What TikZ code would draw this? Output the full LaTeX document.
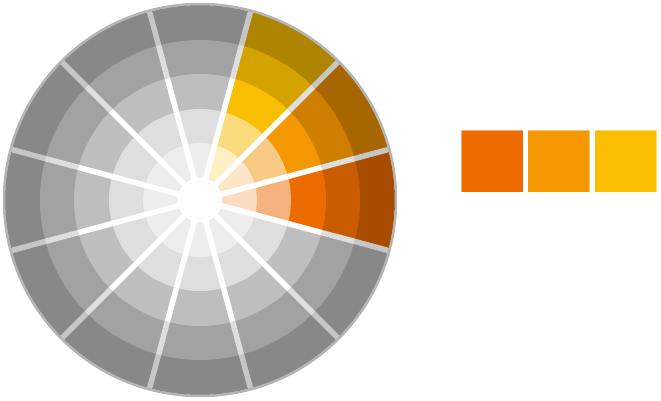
\documentclass[tikz,border=0pt]{standalone}
\definecolor{g1}{HTML}{888888}
\definecolor{g2}{HTML}{A2A2A2}
\definecolor{g3}{HTML}{BEBEBE}
\definecolor{g4}{HTML}{DEDEDE}
\definecolor{g5}{HTML}{EDEDED}
\definecolor{w0x1}{HTML}{A84C00}
\definecolor{w0x2}{HTML}{C95B00}
\definecolor{w0x3}{HTML}{EC6C00}
\definecolor{w0x4}{HTML}{F4B27C}
\definecolor{w0x5}{HTML}{FADCC2}
\definecolor{w1x1}{HTML}{A86600}
\definecolor{w1x2}{HTML}{CE7F00}
\definecolor{w1x3}{HTML}{F39800}
\definecolor{w1x4}{HTML}{F8C983}
\definecolor{w1x5}{HTML}{FDE6C8}
\definecolor{w2x1}{HTML}{AE8500}
\definecolor{w2x2}{HTML}{D4A300}
\definecolor{w2x3}{HTML}{F9BE00}
\definecolor{w2x4}{HTML}{FCDB7D}
\definecolor{w2x5}{HTML}{FEF0C3}
\definecolor{gapA}{HTML}{C6C6C6}
\definecolor{gapB}{HTML}{DEDEDE}
\definecolor{rim}{HTML}{B4B4B4}
\tikzset{
  gapline/.style={line width=5.5pt},
  swatch/.style={minimum size=62pt, inner sep=0pt, draw=white, draw opacity=0.45, line width=1pt}
}
\begin{document}
\begin{tikzpicture}[x=1pt,y=1pt]
\useasboundingbox (0,0) rectangle (661,400);
\coordinate (C) at (200,200);
\foreach \r/\k/\gc in {195/1/gapA, 160/2/gapB, 126/3/white, 91/4/white, 57/5/white} {
  \foreach \i in {0,...,11} {
    \ifnum\i<3 \def\cc{w\i x\k}\else\def\cc{g\k}\fi
    \fill[fill=\cc] (C) -- ++(\i*30-15:\r) arc[start angle=\i*30-15, end angle=\i*30+15, radius=\r] -- cycle;
  }
  \foreach \i in {0,...,11} {
    \draw[gapline, draw=\gc] (C) -- ++(\i*30+15:\r);
  }
}
\fill[white] (C) circle[radius=22];
\draw[rim, line width=2.5pt] (C) circle[radius=196];
\node[swatch, fill=w0x3] (s1) at (492,239) {};
\node[swatch, fill=w1x3] (s2) at (558.5,239) {};
\node[swatch, fill=w2x3] (s3) at (625.5,239) {};
\end{tikzpicture}
\end{document}
